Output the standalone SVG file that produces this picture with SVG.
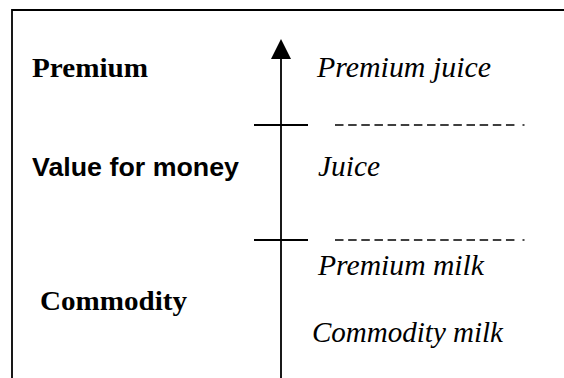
<svg xmlns="http://www.w3.org/2000/svg" width="564" height="378" viewBox="0 0 564 378">
  <style>
    .frame { fill: none; stroke: #000; stroke-width: 1.8; }
    .axis { fill: none; stroke: #000; stroke-width: 1.8; }
    .tick { fill: none; stroke: #000; stroke-width: 1.8; }
    .dash { fill: none; stroke: #000; stroke-width: 1.4; stroke-dasharray: 8.5 4.65; }
    .dot { fill: none; stroke: #000; stroke-width: 1.4; }
    .tier { font-family: "Liberation Serif", "Times New Roman", serif; font-weight: bold; font-size: 28px; fill: #000; }
    .tier-sans { font-family: "Liberation Sans", Arial, sans-serif; font-weight: bold; font-size: 26px; fill: #000; }
    .product { font-family: "Liberation Serif", "Times New Roman", serif; font-style: italic; font-size: 28.5px; fill: #000; }
  </style>

  <!-- open frame: top and left edges only -->
  <g id="frame">
    <path class="frame" d="M12 378 V10 H564"/>
  </g>

  <!-- value axis with tier separators -->
  <g id="connectors">
    <line class="axis" x1="281" y1="58" x2="281" y2="378"/>
    <polygon points="281,39 271,59 291,59" fill="#000"/>
    <line class="tick" x1="254" y1="125" x2="308" y2="125"/>
    <line class="tick" x1="254" y1="240" x2="308" y2="240"/>
    <line class="dash" x1="335" y1="125" x2="514.5" y2="125"/>
    <line class="dot" x1="522.5" y1="125" x2="524.5" y2="125"/>
    <line class="dash" x1="335" y1="240" x2="514.5" y2="240"/>
    <line class="dot" x1="522.5" y1="240" x2="524.5" y2="240"/>
  </g>

  <!-- tiers -->
  <g id="tier-premium">
    <text class="tier" x="32" y="77" textLength="116" lengthAdjust="spacingAndGlyphs">Premium</text>
  </g>
  <g id="tier-value">
    <text class="tier-sans" x="32" y="176" textLength="207" lengthAdjust="spacingAndGlyphs">Value for money</text>
  </g>
  <g id="tier-commodity">
    <text class="tier" x="40" y="310" textLength="147" lengthAdjust="spacingAndGlyphs">Commodity</text>
  </g>

  <!-- products -->
  <g id="product-premium-juice">
    <text class="product" x="317" y="77" textLength="174" lengthAdjust="spacingAndGlyphs">Premium juice</text>
  </g>
  <g id="product-juice">
    <text class="product" x="318" y="176" textLength="62" lengthAdjust="spacingAndGlyphs">Juice</text>
  </g>
  <g id="product-premium-milk">
    <text class="product" x="318" y="275" textLength="166" lengthAdjust="spacingAndGlyphs">Premium milk</text>
  </g>
  <g id="product-commodity-milk">
    <text class="product" x="312" y="342" textLength="191" lengthAdjust="spacingAndGlyphs">Commodity milk</text>
  </g>
</svg>
